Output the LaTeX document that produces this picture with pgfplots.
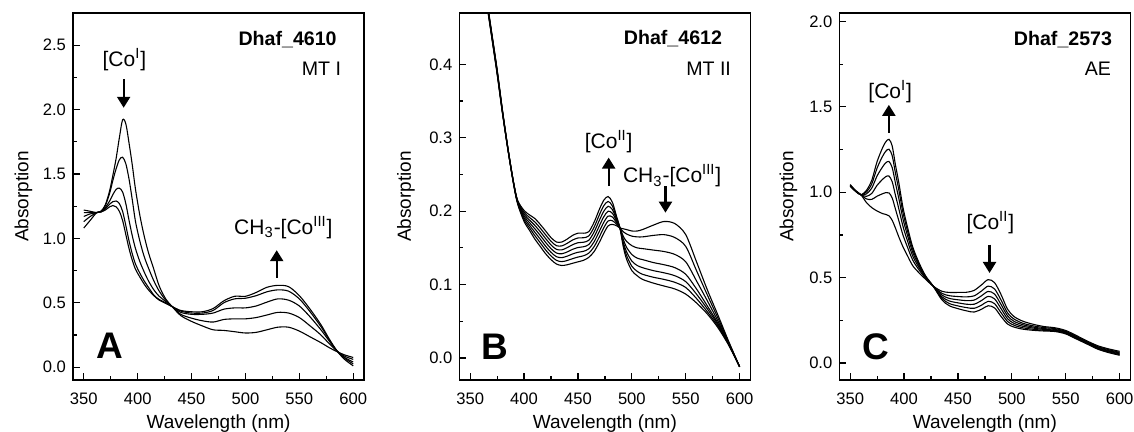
\documentclass[border=0pt]{standalone}
\usepackage{fontspec}
\setmainfont{Liberation Sans}
\usepackage{pgfplots}
\pgfplotsset{compat=1.18}
\usepackage{pgfplotstable}
\usetikzlibrary{arrows.meta}

% UV-vis spectra, one table per panel
\pgfplotstableread{
lam a1 a2 a3 a4 a5
350 1.08 1.13 1.17 1.20 1.22
356 1.14 1.17 1.19 1.20 1.21
362 1.20 1.20 1.20 1.20 1.20
366 1.21 1.21 1.21 1.205 1.205
370 1.26 1.255 1.24 1.23 1.22
374 1.37 1.35 1.29 1.265 1.245
377 1.49 1.45 1.34 1.285 1.255
380 1.62 1.54 1.38 1.29 1.245
383 1.78 1.61 1.39 1.27 1.21
386 1.92 1.63 1.36 1.21 1.14
389 1.89 1.58 1.27 1.10 1.03
392 1.74 1.46 1.14 0.98 0.92
395 1.57 1.30 1.02 0.88 0.83
398 1.38 1.13 0.92 0.80 0.76
402 1.18 0.98 0.82 0.73 0.70
406 1.02 0.86 0.74 0.67 0.645
410 0.89 0.77 0.67 0.62 0.60
415 0.76 0.67 0.60 0.56 0.555
420 0.63 0.59 0.55 0.525 0.52
426 0.53 0.52 0.51 0.50 0.495
432 0.47 0.47 0.47 0.47 0.47
440 0.40 0.41 0.425 0.435 0.44
450 0.355 0.38 0.41 0.42 0.43
460 0.32 0.36 0.41 0.42 0.43
470 0.29 0.35 0.42 0.44 0.455
480 0.285 0.37 0.45 0.50 0.515
490 0.275 0.375 0.46 0.53 0.55
500 0.265 0.375 0.46 0.535 0.55
510 0.27 0.385 0.475 0.555 0.58
520 0.29 0.405 0.505 0.585 0.62
530 0.31 0.425 0.53 0.60 0.635
540 0.31 0.42 0.52 0.59 0.625
550 0.28 0.385 0.475 0.53 0.555
560 0.235 0.32 0.39 0.43 0.45
570 0.19 0.25 0.29 0.315 0.33
578 0.15 0.18 0.20 0.21 0.215
585 0.12 0.125 0.125 0.125 0.125
592 0.095 0.085 0.075 0.07 0.06
600 0.075 0.06 0.04 0.025 0.01
}\tabA

\pgfplotstableread{
lam b1 b2 b3 b4 b5 b6 b7
350 0.657 0.658 0.659 0.660 0.661 0.662 0.663
355 0.597 0.598 0.599 0.600 0.601 0.602 0.603
360 0.542 0.543 0.544 0.545 0.546 0.547 0.548
365 0.487 0.488 0.489 0.490 0.491 0.492 0.493
370 0.437 0.438 0.439 0.440 0.441 0.442 0.443
375 0.387 0.388 0.389 0.390 0.391 0.392 0.393
380 0.333 0.334 0.334 0.335 0.336 0.336 0.337
385 0.284 0.284 0.285 0.285 0.285 0.286 0.286
390 0.239 0.240 0.240 0.240 0.241 0.241 0.241
394 0.210 0.211 0.212 0.212 0.213 0.214 0.215
400 0.186 0.1885 0.191 0.1935 0.196 0.1985 0.201
405 0.174 0.1775 0.181 0.1845 0.188 0.1915 0.195
410 0.162 0.1667 0.1713 0.176 0.1807 0.1853 0.190
415 0.152 0.157 0.162 0.167 0.172 0.177 0.182
420 0.142 0.1472 0.1523 0.1575 0.1627 0.1678 0.173
425 0.134 0.139 0.144 0.149 0.154 0.159 0.164
430 0.128 0.133 0.138 0.143 0.148 0.153 0.158
435 0.126 0.1313 0.1367 0.142 0.1473 0.1527 0.158
440 0.127 0.1328 0.1387 0.1445 0.1503 0.1562 0.162
445 0.129 0.1353 0.1417 0.148 0.1543 0.1607 0.167
450 0.131 0.1375 0.144 0.1505 0.157 0.1635 0.170
455 0.133 0.1392 0.1453 0.1515 0.1577 0.1638 0.170
460 0.137 0.1428 0.1487 0.1545 0.1603 0.1662 0.172
465 0.145 0.1517 0.1583 0.165 0.1717 0.1783 0.185
470 0.158 0.1655 0.173 0.1805 0.188 0.1955 0.203
474 0.170 0.1775 0.185 0.1925 0.200 0.2075 0.215
478 0.180 0.1867 0.1933 0.200 0.2067 0.2133 0.220
482 0.182 0.187 0.192 0.197 0.202 0.207 0.212
486 0.180 0.182 0.184 0.186 0.188 0.190 0.192
489 0.177 0.177 0.177 0.177 0.177 0.177 0.177
492 0.176 0.172 0.166 0.162 0.158 0.155 0.152
495 0.175 0.169 0.159 0.151 0.145 0.140 0.135
500 0.173 0.166 0.153 0.141 0.132 0.125 0.119
505 0.173 0.165 0.150 0.136 0.126 0.118 0.112
510 0.175 0.165 0.149 0.134 0.123 0.114 0.107
520 0.181 0.167 0.147 0.130 0.119 0.110 0.102
530 0.186 0.168 0.145 0.127 0.116 0.107 0.098
540 0.183 0.164 0.141 0.123 0.112 0.103 0.094
550 0.168 0.152 0.131 0.114 0.104 0.096 0.087
560 0.131 0.119 0.105 0.094 0.087 0.081 0.075
570 0.093 0.086 0.078 0.071 0.067 0.063 0.060
580 0.058 0.054 0.050 0.047 0.045 0.043 0.041
590 0.022 0.021 0.020 0.019 0.018 0.018 0.017
600 -0.012 -0.012 -0.012 -0.012 -0.012 -0.012 -0.012
}\tabB

\pgfplotstableread{
lam c1 c2 c3 c4 c5 c6
350 1.045 1.042 1.040 1.038 1.036 1.035
355 1.010 1.009 1.007 1.007 1.006 1.005
360 0.985 0.985 0.985 0.985 0.985 0.985
365 0.940 0.961 0.976 0.990 1.001 1.010
370 0.910 0.958 0.993 1.024 1.049 1.070
375 0.890 0.977 1.041 1.096 1.142 1.180
380 0.875 0.991 1.075 1.148 1.210 1.260
383 0.870 0.998 1.091 1.172 1.240 1.295
386 0.862 0.996 1.095 1.180 1.252 1.310
389 0.835 0.966 1.061 1.144 1.213 1.270
392 0.790 0.901 0.982 1.053 1.112 1.160
395 0.740 0.836 0.906 0.967 1.018 1.060
399 0.680 0.749 0.800 0.843 0.880 0.910
403 0.630 0.681 0.718 0.751 0.778 0.800
408 0.570 0.603 0.627 0.648 0.666 0.680
414 0.527 0.544 0.557 0.568 0.577 0.585
420 0.490 0.496 0.500 0.504 0.507 0.510
427 0.450 0.450 0.450 0.450 0.450 0.450
435 0.420 0.408 0.398 0.388 0.379 0.370
442 0.413 0.394 0.378 0.363 0.348 0.335
450 0.413 0.389 0.370 0.352 0.334 0.318
458 0.414 0.387 0.365 0.344 0.324 0.305
465 0.425 0.393 0.368 0.344 0.320 0.298
472 0.458 0.422 0.394 0.366 0.339 0.315
478 0.488 0.450 0.419 0.390 0.361 0.335
484 0.470 0.433 0.403 0.375 0.347 0.322
490 0.400 0.368 0.342 0.318 0.294 0.272
496 0.315 0.293 0.276 0.259 0.243 0.228
502 0.272 0.257 0.244 0.232 0.221 0.210
510 0.245 0.233 0.224 0.215 0.206 0.198
520 0.226 0.217 0.210 0.204 0.197 0.191
530 0.213 0.207 0.201 0.196 0.191 0.187
540 0.206 0.201 0.196 0.192 0.188 0.184
550 0.190 0.185 0.181 0.177 0.173 0.170
560 0.160 0.155 0.151 0.147 0.143 0.140
570 0.128 0.124 0.120 0.117 0.113 0.110
580 0.100 0.095 0.091 0.087 0.083 0.080
590 0.082 0.077 0.072 0.068 0.064 0.060
600 0.068 0.062 0.058 0.053 0.049 0.045
}\tabC

\pgfplotsset{
  spec/.style={
    scale only axis, width=145.5pt, height=183.5pt,
    xmin=340, xmax=610,
    xtick={350,400,...,600},
    minor x tick num=1, minor y tick num=1,
    tick align=inside, tick pos=left,
    major tick length=3.5pt, minor tick length=2pt,
    axis line style={line width=0.6pt},
    every tick/.style={black, line width=0.6pt},
    /pgf/number format/assume math mode=true,
    tick label style={font=\fontsize{8.3}{9}\selectfont},
    xticklabel style={yshift=-3pt},
    yticklabel style={/pgf/number format/fixed,
      /pgf/number format/fixed zerofill, /pgf/number format/precision=1},
    xlabel={Wavelength (nm)}, ylabel={Absorption},
    label style={font=\fontsize{9.5}{11}\selectfont},
    xlabel style={at={(axis description cs:0.5,-0.1324)}, anchor=base},
  },
  curve/.style={black, line width=0.55pt, smooth, mark=none},
}
\tikzset{
  arr/.style={line width=1.1pt, -{Triangle[width=6.5pt,length=5.5pt]}},
  big/.style={font=\bfseries\fontsize{18.5}{20}\selectfont},
  lbl/.style={font=\fontsize{9.8}{11}\selectfont, anchor=base east, inner sep=0pt},
  lblb/.style={font=\bfseries\fontsize{9.8}{11}\selectfont, anchor=base east, inner sep=0pt},
  ann/.style={font=\fontsize{10.5}{12}\selectfont},
}

\begin{document}
\begin{tikzpicture}
% panel A
\begin{axis}[spec, at={(36.5pt,-190pt)},
  ymin=-0.1, ymax=2.75, ytick={0,0.5,...,2.5},
  ylabel style={at={(axis description cs:-0.170,0.5)}, anchor=center}]
\addplot[curve] table[x=lam,y=a1]{\tabA};
\addplot[curve] table[x=lam,y=a2]{\tabA};
\addplot[curve] table[x=lam,y=a3]{\tabA};
\addplot[curve] table[x=lam,y=a4]{\tabA};
\addplot[curve] table[x=lam,y=a5]{\tabA};
\node[lblb] at (axis cs:585,2.50) {Dhaf\_4610};
\node[lbl] at (axis cs:589,2.265) {MT I};
\node[ann] at (axis cs:387.7,2.39) {[Co\textsuperscript{I}]};
\draw[arr] (axis cs:387,2.234) -- (axis cs:387,2.014);
\node[ann] at (axis cs:535.2,1.082) {CH\textsubscript{3}-[Co\textsuperscript{III}]};
\draw[arr] (axis cs:529,0.694) -- (axis cs:529,0.908);
\node[big] at (axis cs:374,0.163) {A};
\end{axis}

% panel B
\begin{axis}[spec, at={(229.7pt,-190pt)},
  ymin=-0.03, ymax=0.47, ytick={0,0.1,...,0.4},
  ylabel style={at={(axis description cs:-0.184,0.5)}, anchor=center}]
\addplot[curve] table[x=lam,y=b1]{\tabB};
\addplot[curve] table[x=lam,y=b2]{\tabB};
\addplot[curve] table[x=lam,y=b3]{\tabB};
\addplot[curve] table[x=lam,y=b4]{\tabB};
\addplot[curve] table[x=lam,y=b5]{\tabB};
\addplot[curve] table[x=lam,y=b6]{\tabB};
\addplot[curve] table[x=lam,y=b7]{\tabB};
\node[lblb] at (axis cs:584,0.4265) {Dhaf\_4612};
\node[lbl] at (axis cs:592.3,0.385) {MT II};
\node[ann] at (axis cs:478.5,0.2944) {[Co\textsuperscript{II}]};
\draw[arr] (axis cs:478.5,0.234) -- (axis cs:478.5,0.273);
\node[ann] at (axis cs:537.4,0.248) {CH\textsubscript{3}-[Co\textsuperscript{III}]};
\draw[arr] (axis cs:531.2,0.234) -- (axis cs:531.2,0.198);
\node[big] at (axis cs:373.2,0.0158) {B};
\end{axis}

% panel C
\begin{axis}[spec, at={(419.7pt,-190pt)},
  ymin=-0.1, ymax=2.05, ytick={0,0.5,...,2},
  ylabel style={at={(axis description cs:-0.175,0.5)}, anchor=center}]
\addplot[curve] table[x=lam,y=c1]{\tabC};
\addplot[curve] table[x=lam,y=c2]{\tabC};
\addplot[curve] table[x=lam,y=c3]{\tabC};
\addplot[curve] table[x=lam,y=c4]{\tabC};
\addplot[curve] table[x=lam,y=c5]{\tabC};
\addplot[curve] table[x=lam,y=c6]{\tabC};
\node[lblb] at (axis cs:593.3,1.86) {Dhaf\_2573};
\node[lbl] at (axis cs:592.3,1.682) {AE};
\node[ann] at (axis cs:387.2,1.59) {[Co\textsuperscript{I}]};
\draw[arr] (axis cs:385.9,1.347) -- (axis cs:385.9,1.512);
\node[ann] at (axis cs:480.1,0.824) {[Co\textsuperscript{II}]};
\draw[arr] (axis cs:479.3,0.693) -- (axis cs:479.3,0.527);
\node[big] at (axis cs:374.1,0.097) {C};
\end{axis}

\pgfresetboundingbox
\path (0pt,0pt) rectangle (567pt,-216pt);
\end{tikzpicture}
\end{document}
